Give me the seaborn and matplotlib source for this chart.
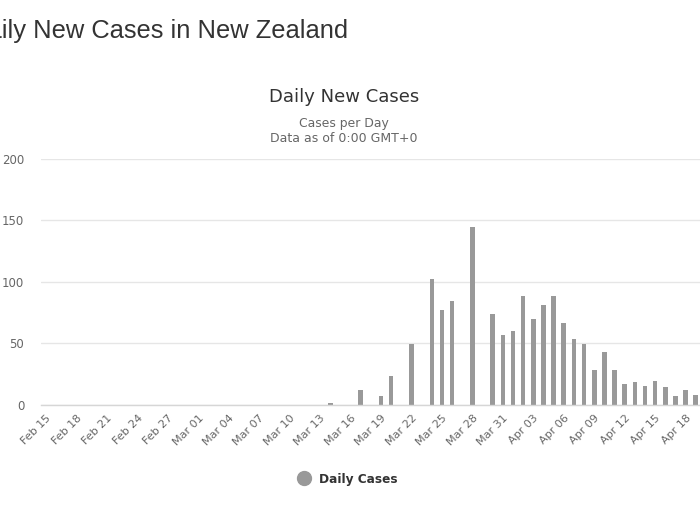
import matplotlib
matplotlib.use("Agg")
import matplotlib.pyplot as plt
from matplotlib.lines import Line2D
import seaborn as sns
import pandas as pd
import numpy as np

# ---- data ----
start = pd.Timestamp("2020-02-15")
end = pd.Timestamp("2020-04-19")
dates = pd.date_range(start, end, freq="D")
date_labels = [d.strftime("%b %d") for d in dates]

nonzero_days = ["Mar 14", "Mar 17", "Mar 19", "Mar 20", "Mar 22", "Mar 24", "Mar 25",
                "Mar 26", "Mar 28", "Mar 30", "Mar 31", "Apr 01", "Apr 02", "Apr 03",
                "Apr 04", "Apr 05", "Apr 06", "Apr 07", "Apr 08", "Apr 09", "Apr 10",
                "Apr 11", "Apr 12", "Apr 13", "Apr 14", "Apr 15", "Apr 16", "Apr 17",
                "Apr 18", "Apr 19"]
nonzero_vals = [1, 12, 7, 23, 49, 102, 77,
                84, 145, 74, 57, 60, 88, 70,
                81, 88, 66, 53, 49, 28, 43,
                28, 17, 18, 15, 19, 14, 7,
                12, 8]
case_map = dict(zip(nonzero_days, nonzero_vals))
daily_cases = [case_map.get(l, 0) for l in date_labels]

y_ticks = [0, 50, 100, 150, 200]

df = pd.DataFrame({"date": date_labels, "cases": daily_cases})

# ---- figure ----
sns.set_style("white")
plt.rcParams["font.family"] = ["DejaVu Sans"]

W, H = 700, 525
fig = plt.figure(figsize=(7, 5.25), dpi=100)
left_px, right_px, top_px, bot_px = 41.0, 700.8, 159.0, 404.5
ax = fig.add_axes([left_px / W, 1 - bot_px / H, (right_px - left_px) / W, (bot_px - top_px) / H])

sns.barplot(data=df, x="date", y="cases", color="#999999", width=0.45,
            saturation=1, ax=ax, edgecolor="none", linewidth=0)

ax.set_xlim(-0.5, len(dates) - 0.5)
ax.set_ylim(0, 200)
ax.set_yticks(y_ticks)
ax.set_yticklabels([str(t) for t in y_ticks])
ax.yaxis.grid(True, color="#e6e6e6", linewidth=1)
ax.set_axisbelow(True)
for s in ["top", "right", "left"]:
    ax.spines[s].set_visible(False)
ax.spines["bottom"].set_color("#d6d6d6")
ax.spines["bottom"].set_linewidth(1)
ax.set_xlabel("")
ax.set_ylabel("")

tick_idx = list(range(0, len(dates), 3))
ax.set_xticks(tick_idx)
ax.set_xticklabels([date_labels[i] for i in tick_idx], rotation=45, ha="right",
                   rotation_mode="anchor", fontsize=8, color="#666666")
ax.tick_params(axis="x", length=0, pad=6)
ax.tick_params(axis="y", length=0, pad=12, labelsize=8.5, labelcolor="#666666")

# ---- titles ----
fig.text(348 / W, 1 - 31 / H, "Daily New Cases in New Zealand", ha="right", va="center",
         fontsize=18.4, color="#333333", family=["Liberation Sans", "DejaVu Sans"])
fig.text(344 / W, 1 - 97 / H, "Daily New Cases", ha="center", va="center",
         fontsize=13, color="#333333")
fig.text(344 / W, 1 - 123 / H, "Cases per Day", ha="center", va="center",
         fontsize=8.9, color="#666666")
fig.text(344 / W, 1 - 139 / H, "Data as of 0:00 GMT+0", ha="center", va="center",
         fontsize=9, color="#666666")

# ---- legend ----
handle = Line2D([], [], marker="o", linestyle="none", markersize=10,
                markerfacecolor="#999999", markeredgecolor="#999999")
leg = fig.legend([handle], ["Daily Cases"], loc="center", bbox_to_anchor=(345 / W, 1 - 479 / H),
                 frameon=False, handletextpad=0.2, prop={"size": 8.7, "weight": "bold"})
for t in leg.get_texts():
    t.set_color("#333333")

fig.savefig("out.png", dpi=100, facecolor="white")
